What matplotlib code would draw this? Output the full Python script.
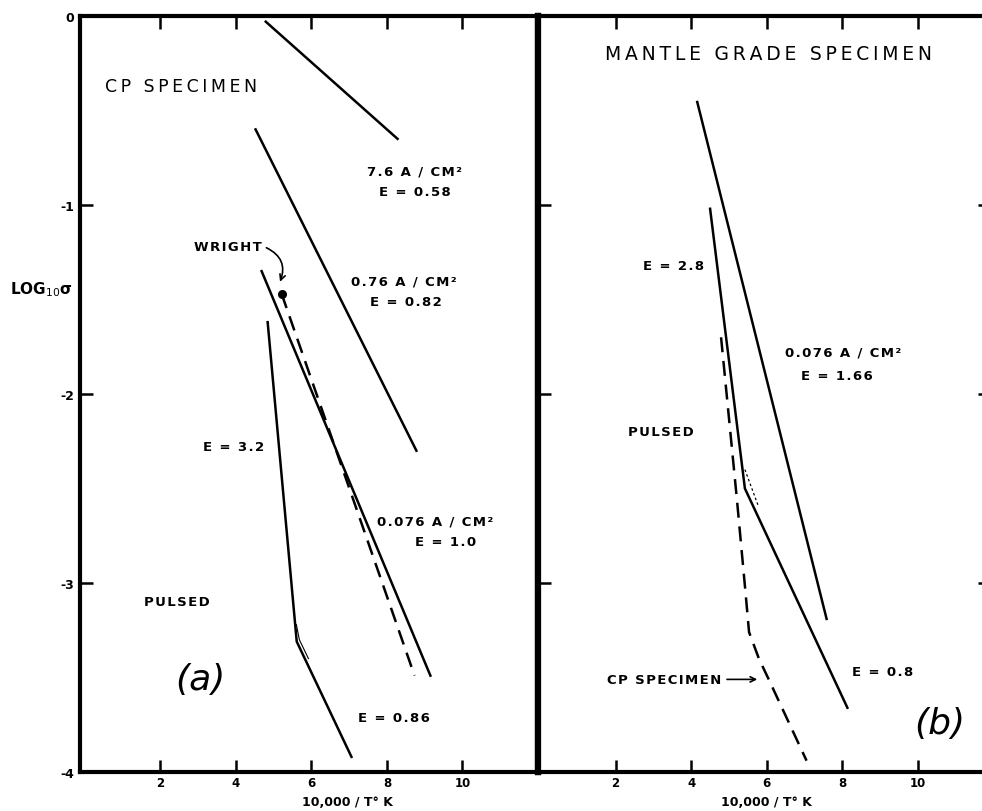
import matplotlib
matplotlib.use("Agg")
import matplotlib.pyplot as plt

# ---- data (x = 10,000/T K, y = log10 sigma) ----
# panel (a): CP specimen
cp_hi_x = [4.79, 8.28]          # 7.6 A/cm2
cp_hi_y = [-0.03, -0.65]
cp_mid_x = [4.52, 8.78]         # 0.76 A/cm2
cp_mid_y = [-0.60, -2.30]
cp_lo_x = [4.68, 9.15]          # 0.076 A/cm2
cp_lo_y = [-1.35, -3.49]
wright_x = [5.21, 8.73]         # Wright, dashed
wright_y = [-1.47, -3.49]
cp_pulse_x = [4.84, 5.61, 7.06]  # pulsed, E=3.2 then E=0.86
cp_pulse_y = [-1.62, -3.31, -3.92]
cp_knee_x = [5.60, 5.68, 5.92]
cp_knee_y = [-3.22, -3.30, -3.40]

# panel (b): mantle grade specimen
mg_lo_x = [4.16, 7.58]          # 0.076 A/cm2
mg_lo_y = [-0.455, -3.19]
mg_pulse_x = [4.50, 5.42, 8.13]  # pulsed, E=2.8 then E=0.8
mg_pulse_y = [-1.02, -2.50, -3.66]
mg_knee_x = [5.42, 5.77]
mg_knee_y = [-2.40, -2.59]
cp_ref_x = [4.79, 5.21, 5.45, 5.53, 5.79, 6.05, 7.05]  # CP specimen pulsed, dashed
cp_ref_y = [-1.70, -2.56, -3.08, -3.26, -3.40, -3.51, -3.94]

xticks = [2, 4, 6, 8, 10]
yticks = [0, -1, -2, -3, -4]
ytick_labels = ['0', '-1', '-2', '-3', '-4']

LW = 1.8
DASH = (0, (6, 3.5))
plt.rcParams['font.family'] = ['DejaVu Sans']

def sp(s, gap='\u200a'):
    # hand lettering is spaced out a bit
    return gap.join(s)

fig = plt.figure(figsize=(9.82, 8.12), dpi=100)
ax1 = fig.add_axes([80/982, 39/812, 458/982, 756/812])
ax2 = fig.add_axes([538/982, 39/812, 452/982, 756/812])

for ax in (ax1, ax2):
    ax.set_ylim(-4, 0)
    ax.set_xticks(xticks)
    ax.set_xticklabels([str(t) for t in xticks], fontsize=8.5, fontweight='bold')
    ax.tick_params(axis='x', direction='in', length=9, width=1.8, top=True, pad=3)
    ax.tick_params(axis='y', direction='in', length=9, width=1.8, pad=4)
    for s in ax.spines.values():
        s.set_linewidth(3)
    ax.set_xlabel('10,000 / T° K', fontsize=9, fontweight='bold')

ax1.set_xlim(-0.13, 12.0)
ax2.set_xlim(-0.05, 11.9)
ax1.spines['right'].set_linewidth(4.5)
ax2.spines['left'].set_linewidth(4.5)

ax1.set_yticks(yticks)
ax1.set_yticklabels(ytick_labels, fontsize=9, fontweight='bold')
ax2.set_yticks(yticks[1:4])
ax2.tick_params(axis='y', right=True, labelleft=False)
ax1.xaxis.set_label_coords(0.583, -0.030)
ax2.xaxis.set_label_coords(0.505, -0.030)

fig.text(10/982, 1 - 290/812, 'LOG$_{10}$σ', fontsize=11, fontweight='bold',
         ha='left', va='center')

# panel (a)
ax1.plot(cp_hi_x, cp_hi_y, c='k', lw=LW)
ax1.plot(cp_mid_x, cp_mid_y, c='k', lw=LW)
ax1.plot(cp_lo_x, cp_lo_y, c='k', lw=LW)
ax1.plot(wright_x, wright_y, c='k', lw=LW, ls=DASH)
ax1.plot(wright_x[0], wright_y[0], 'o', c='k', ms=5.5)
ax1.plot(cp_pulse_x, cp_pulse_y, c='k', lw=LW)
ax1.plot(cp_knee_x, cp_knee_y, c='k', lw=0.8)

small = dict(fontsize=9.5, fontweight='bold', ha='center', va='center')
ax1.text(0.53, -0.37, sp('CP SPECIMEN', '\u2009'), fontsize=12.5, ha='left', va='center')
ax1.text(8.74, -0.82, sp('7.6 A / CM²'), **small)
ax1.text(8.74, -0.93, sp('E = 0.58'), **small)
ax1.text(8.45, -1.40, sp('0.76 A / CM²'), **small)
ax1.text(8.50, -1.51, sp('E = 0.82'), **small)
ax1.text(3.95, -2.28, sp('E = 3.2'), **small)
ax1.text(9.27, -2.67, sp('0.076 A / CM²'), **small)
ax1.text(9.54, -2.78, sp('E = 1.0'), **small)
ax1.text(2.44, -3.10, sp('PULSED'), **small)
ax1.text(8.19, -3.71, sp('E = 0.86'), **small)
ax1.text(3.05, -3.51, '(a)', fontsize=26, style='italic', ha='center', va='center')
ax1.text(4.69, -1.22, sp('WRIGHT'), fontsize=9.5, fontweight='bold', ha='right', va='center')
ax1.annotate('', xy=(5.14, -1.42), xytext=(4.74, -1.22),
             arrowprops=dict(arrowstyle='->', lw=1.2, color='k',
                             connectionstyle='arc3,rad=-0.5'))

# panel (b)
ax2.plot(mg_lo_x, mg_lo_y, c='k', lw=LW)
ax2.plot(mg_pulse_x, mg_pulse_y, c='k', lw=LW)
ax2.plot(mg_knee_x, mg_knee_y, c='k', lw=0.9, ls=(0, (2, 2)))
ax2.plot(cp_ref_x, cp_ref_y, c='k', lw=LW, ls=DASH)

ax2.text(1.72, -0.20, sp('MANTLE GRADE SPECIMEN', '\u2009'), fontsize=13.5,
         ha='left', va='center')
ax2.text(3.54, -1.32, sp('E = 2.8'), **small)
ax2.text(8.02, -1.78, sp('0.076 A / CM²'), **small)
ax2.text(7.86, -1.90, sp('E = 1.66'), **small)
ax2.text(3.20, -2.20, sp('PULSED'), **small)
ax2.text(9.05, -3.47, sp('E = 0.8'), **small)
ax2.text(10.58, -3.74, '(b)', fontsize=26, style='italic', ha='center', va='center')
ax2.annotate(sp('CP SPECIMEN'), xy=(5.82, -3.51), xytext=(4.80, -3.51),
             fontsize=9.5, fontweight='bold', ha='right', va='center',
             arrowprops=dict(arrowstyle='->', lw=1.2, color='k'))

fig.savefig('out.png', dpi=100)
